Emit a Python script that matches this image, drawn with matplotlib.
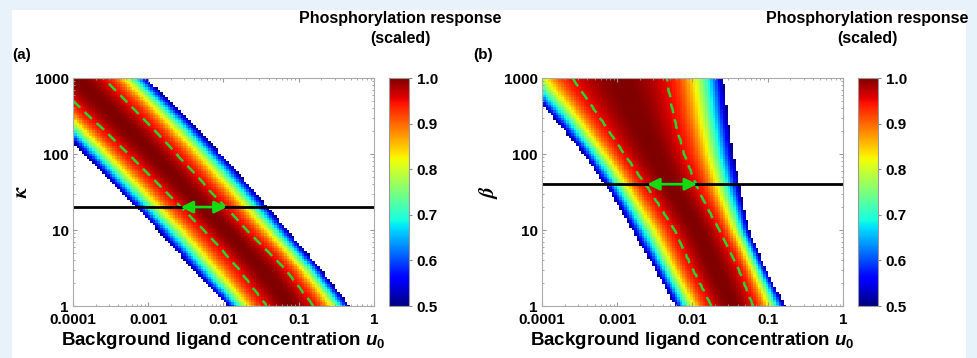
import numpy as np
import matplotlib
matplotlib.use("Agg")
import matplotlib.pyplot as plt
from matplotlib.patches import Rectangle

plt.rcParams['font.family'] = ['Liberation Sans', 'DejaVu Sans']
plt.rcParams['font.weight'] = 'bold'
plt.rcParams['mathtext.fontset'] = 'custom'
plt.rcParams['mathtext.it'] = 'Liberation Sans:italic:bold'
plt.rcParams['mathtext.rm'] = 'Liberation Sans:bold'

log_k = [0, 0.5, 1, 1.5, 2, 2.5, 3]

# panel (a): log10 u0 where the response crosses 0.5 (edges) and 0.95 (dashed)
a_left_edge = [-1.95, -2.43, -2.88, -3.37, -3.85, -4.33, -4.80]
a_left_dash = [-1.42, -1.80, -2.25, -2.75, -3.25, -3.78, -4.30]
a_right_dash = [-0.81, -1.20, -1.70, -2.17, -2.63, -3.11, -3.60]
a_right_edge = [-0.32, -0.72, -1.15, -1.58, -2.03, -2.51, -3.03]

# panel (b)
b_left_edge = [-2.23, -2.51, -2.80, -3.10, -3.45, -3.87, -4.35]
b_left_dash = [-1.74, -2.00, -2.23, -2.55, -2.90, -3.24, -3.59]
b_right_dash = [-1.20, -1.40, -1.65, -1.92, -2.12, -2.26, -2.35]
b_right_edge = [-0.77, -1.03, -1.25, -1.36, -1.46, -1.53, -1.59]

# horizontal cut and the arrow ends (u0 at the dashed contours)
a_cut = 20
a_arrow = [0.0027, 0.011]
b_cut = 40
b_arrow = [0.0025, 0.0115]

x_ticks = [0.0001, 0.001, 0.01, 0.1, 1]
x_labels = ["0.0001", "0.001", "0.01", "0.1", "1"]
y_ticks = [1, 10, 100, 1000]
y_labels = ["1", "10", "100", "1000"]
cb_ticks = [0.5, 0.6, 0.7, 0.8, 0.9, 1.0]

W, H = 978, 358


def build_field(left_edge, left_dash, right_dash, right_edge):
    lu = np.linspace(-4, 0, 120)
    lk = np.linspace(0, 3, 90)
    LU, LK = np.meshgrid(lu, lk)
    L = np.interp(LK, log_k, left_edge)
    D1 = np.interp(LK, log_k, left_dash)
    D2 = np.interp(LK, log_k, right_dash)
    R = np.interp(LK, log_k, right_edge)
    v = np.empty_like(LU)
    # outside the dashed contour: falls from 0.95 to 0.5 at the edge
    m1 = LU < D1
    s = np.clip((D1 - LU) / (D1 - L), 0, None)
    v[m1] = 0.95 - 0.45 * s[m1] ** 1.75
    m2 = (LU >= D1) & (LU <= D2)
    s = (LU - D1) / (D2 - D1)
    v[m2] = 0.95 + 0.05 * (1 - (2 * s[m2] - 1) ** 2)
    m3 = LU > D2
    s = np.clip((LU - D2) / (R - D2), 0, None)
    v[m3] = 0.95 - 0.45 * s[m3] ** 1.75
    return 10 ** LU, 10 ** LK, v


def draw_panel(ax, cax, field, cut, arrow, ylab):
    U, K, V = field
    mesh = ax.pcolormesh(U, K, np.ma.masked_less(V, 0.5), cmap='jet',
                         vmin=0.5, vmax=1.0, shading='nearest')
    ax.contour(U, K, V, levels=[0.95], colors='#2bd42b',
               linestyles=[(0, (4, 2.5))], linewidths=1.8)
    ax.axhline(cut, color='black', lw=2)
    ax.annotate('', xy=(arrow[1], cut), xytext=(arrow[0], cut),
                arrowprops=dict(arrowstyle='<|-|>', color='#11dd11', lw=2,
                                mutation_scale=18, shrinkA=0, shrinkB=0))
    ax.set_xscale('log')
    ax.set_yscale('log')
    ax.set_xlim(1e-4, 1)
    ax.set_ylim(1, 1000)
    ax.set_xticks(x_ticks)
    ax.set_xticklabels(x_labels)
    ax.set_yticks(y_ticks)
    ax.set_yticklabels(y_labels)
    ax.tick_params(which='both', direction='in', top=True, right=True,
                   color='#999999', labelsize=11, pad=3)
    ax.tick_params(axis='x', pad=5)
    ax.tick_params(which='major', length=3)
    ax.tick_params(which='minor', length=1.5)
    for sp in ax.spines.values():
        sp.set_color('#aaaaaa')
    ax.set_xlabel(r'Background ligand concentration $u_{\mathit{0}}$',
                  fontsize=13.5, fontweight='bold', labelpad=2)
    ax.set_ylabel(ylab, fontsize=15, math_fontfamily='stix', labelpad=3)

    cb = plt.colorbar(mesh, cax=cax, ticks=cb_ticks)
    cb.ax.set_yticklabels([f"{t:.1f}" for t in cb_ticks])
    cb.ax.tick_params(labelsize=11, length=2, color='#888888')
    cb.outline.set_edgecolor('#999999')


fig = plt.figure(figsize=(W / 100, H / 100), dpi=100)
fig.patch.set_facecolor('#e7f2fa')
fig.patches.append(Rectangle((12 / W, 0), (966 - 12) / W, (H - 10) / H,
                             transform=fig.transFigure, facecolor='white',
                             edgecolor='none', zorder=-10))

ax_b = 1 - 306 / H
ax_h = (306 - 78) / H
ax1 = fig.add_axes([73 / W, ax_b, 301 / W, ax_h])
cax1 = fig.add_axes([389 / W, ax_b, 20 / W, ax_h])
ax2 = fig.add_axes([542 / W, ax_b, 301 / W, ax_h])
cax2 = fig.add_axes([858 / W, ax_b, 20 / W, ax_h])

draw_panel(ax1, cax1, build_field(a_left_edge, a_left_dash, a_right_dash, a_right_edge),
           a_cut, a_arrow, r'$\kappa$')
draw_panel(ax2, cax2, build_field(b_left_edge, b_left_dash, b_right_dash, b_right_edge),
           b_cut, b_arrow, r'$\beta$')

for cx in (400, 867):
    fig.text(cx / W, 1 - 18 / H, 'Phosphorylation response', ha='center',
             va='center', fontsize=11.5, fontweight='bold')
    fig.text(cx / W, 1 - 38 / H, '(scaled)', ha='center', va='center',
             fontsize=11.5, fontweight='bold')
fig.text(12 / W, 1 - 55 / H, '(a)', ha='left', va='center', fontsize=11, fontweight='bold')
fig.text(473 / W, 1 - 55 / H, '(b)', ha='left', va='center', fontsize=11, fontweight='bold')

fig.savefig('out.png', dpi=100, facecolor=fig.get_facecolor())
